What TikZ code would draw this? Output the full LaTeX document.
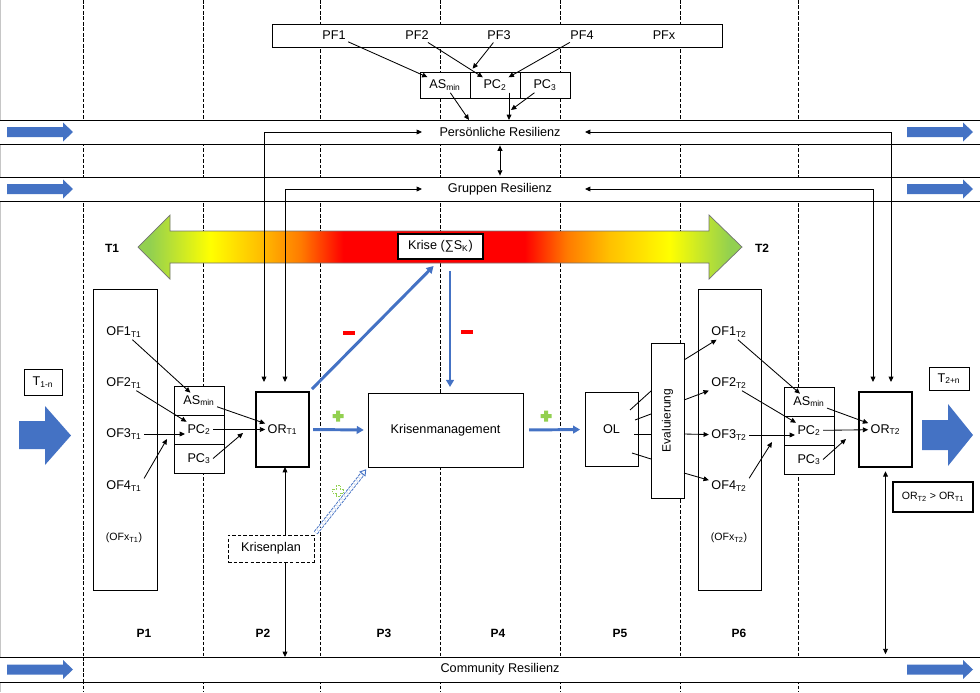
\documentclass[tikz,border=0pt]{standalone}
\usepackage{fontspec}
\setmainfont{Liberation Sans}
\usetikzlibrary{arrows.meta,calc,positioning}
\definecolor{kblue}{HTML}{4472C4}
\definecolor{kgreen}{HTML}{92D050}
\definecolor{kyellow}{HTML}{FFFF00}
\definecolor{kgold}{HTML}{FFC000}
\definecolor{korange}{HTML}{FF7A00}
\definecolor{kred}{HTML}{FF0000}
\pgfdeclarehorizontalshading{krise}{100bp}{color(0bp)=(kgreen); color(26bp)=(kgreen); color(31bp)=(kyellow); color(35bp)=(kgold); color(38.5bp)=(korange); color(42bp)=(kred); color(57bp)=(kred); color(60.5bp)=(korange); color(64bp)=(kgold); color(69bp)=(kyellow); color(74bp)=(kgreen); color(100bp)=(kgreen)}
\newcommand{\tsub}[1]{\textsubscript{#1}}

\begin{document}
\begin{tikzpicture}[x=0.025cm,y=-0.025cm,semithick,font=\fontsize{9}{11}\selectfont,
    >={Triangle[length=3.8pt,width=3.4pt]},
    rbox/.style 2 args={draw,fill=white,minimum width=#1*0.025cm,minimum height=#2*0.025cm,inner sep=0pt,outer sep=0pt},
    txt/.style={inner sep=1.5pt},
    smalltext/.style={font=\fontsize{7.5}{9}\selectfont},
    thickbox/.style={line width=1.3pt},
    phase/.style={font=\fontsize{8.5}{10}\selectfont\bfseries},
    vdash/.style={line width=0.65pt,dash pattern=on 2.6pt off 1.3pt},
    bluearrow/.style={->,>={Triangle[length=5pt,width=5.5pt]},draw=kblue,line width=2.1pt},
    minusbar/.style={fill=kred,minimum width=12*0.025cm,minimum height=4*0.025cm,inner sep=0pt},
    plusmark/.pic={\path[pic actions] (-2,-5.5) -- (2,-5.5) -- (2,-2) -- (5.5,-2) -- (5.5,2) -- (2,2) -- (2,5.5) -- (-2,5.5) -- (-2,2) -- (-5.5,2) -- (-5.5,-2) -- (-2,-2) -- cycle;}]
  \useasboundingbox (0,0) rectangle (980,692);
  \draw[gray!45,line width=1pt] (0.7,0) -- (0.7,692);

  % phases
  \foreach \x in {83,203,320,440,560,680,798}
    \draw[vdash] (\x,0) -- (\x,692);

  % resilience bands
  \node[rbox={984}{24}] (13) at (490,132) {};
  \node[rbox={984}{24}] (15) at (490,189) {};
  \node[rbox={984}{25}] (17) at (490,669.5) {};
  \draw[vdash] (83,657) -- (83,682);
  \node[txt] (14) at (500,132) {Persönliche Resilienz};
  \node[txt] (16) at (500,189) {Gruppen Resilienz};
  \node[txt] (18) at (500,669.5) {Community Resilienz};
  \foreach \y in {132,189,669.5} {
    \fill[kblue] (7,\y-5) -- (63,\y-5) -- (63,\y-9.5) -- (73,\y) -- (63,\y+9.5) -- (63,\y+5) -- (7,\y+5) -- cycle;
    \fill[kblue] (907,\y-5) -- (963,\y-5) -- (963,\y-9.5) -- (973,\y) -- (963,\y+9.5) -- (963,\y+5) -- (907,\y+5) -- cycle;
  }

  % crisis arrow
  \shadedraw[shading=krise,draw=black!55,line width=0.5pt] (138,247) -- (170,215) -- (170,231) -- (709,231) -- (709,215) -- (742,247) -- (709,279) -- (709,263) -- (170,263) -- (170,279) -- cycle;
  \node[rbox={85}{25},line width=0.8pt] (19) at (440.5,246.5) {Krise (∑S\tsub{K})};
  \node[phase] (56) at (112,248) {T1};
  \node[phase] (57) at (762,248) {T2};

  % personal factors
  \node[rbox={450}{23}] (1) at (497,35.5) {};
  \foreach \x/\t [count=\i from 2] in {334/PF1,417/PF2,499/PF3,582/PF4,664/PFx}
    \node[txt] (\i) at (\x,35.5) {\t};
  \node[rbox={50}{26}] (7) at (445,85) {};
  \node[rbox={50}{26},right=0pt of 7] (8) {};
  \node[rbox={50}{26},right=0pt of 8] (9) {};
  \node[txt] (10) at (7) {AS\tsub{min}};
  \node[txt] (11) at (8) {PC\tsub{2}};
  \node[txt] (12) at (9) {PC\tsub{3}};

  % before the crisis
  \node[rbox={64}{301}] (20) at (125,439.5) {};
  \foreach \y/\t [count=\i from 21] in {332/1,383/2,434/3,486/4}
    \node[txt] (\i) at (124,\y) {OF\t\tsub{T1}};
  \node[txt,smalltext] (25) at (124,538) {(OFx\tsub{T1})};
  \node[rbox={50}{29}] (26) at (199,400.5) {};
  \node[rbox={50}{29},below=0pt of 26] (27) {};
  \node[rbox={50}{29},below=0pt of 27] (28) {};
  \node[txt] (29) at (26) {AS\tsub{min}};
  \node[txt] (30) at (27) {PC\tsub{2}};
  \node[txt] (31) at (28) {PC\tsub{3}};
  \node[rbox={53}{75},thickbox] (32) at (282.5,429.5) {};
  \node[txt] (33) at (32) {OR\tsub{T1}};
  \node[rbox={86}{27},dash pattern=on 2.5pt off 1.5pt] (34) at (271,548.5) {Krisenplan};
  \node[rbox={38}{26}] (54) at (43,382) {T\tsub{1-n}};
  \fill[kblue] (19,421) -- (45,421) -- (45,406) -- (71,435.5) -- (45,465) -- (45,449) -- (19,449) -- cycle;

  % crisis and learning
  \node[rbox={155}{74}] (35) at (445.5,430) {Krisenmanagement};
  \node[rbox={53}{74}] (36) at (611.5,429.5) {OL};
  \node[rbox={33}{155}] (37) at (667.5,420.5) {};
  \node[rotate=90,font=\fontsize{8.5}{10}\selectfont] (38) at (37) {Evaluierung};

  % after the crisis
  \node[rbox={63}{301}] (39) at (729.5,439.5) {};
  \foreach \y/\t [count=\i from 40] in {332/1,383/2,435/3,486/4}
    \node[txt] (\i) at (729,\y) {OF\t\tsub{T2}};
  \node[txt,smalltext] (44) at (729,538) {(OFx\tsub{T2})};
  \node[rbox={50}{29}] (45) at (809,401.5) {};
  \node[rbox={50}{29},below=0pt of 45] (46) {};
  \node[rbox={50}{29},below=0pt of 46] (47) {};
  \node[txt] (48) at (45) {AS\tsub{min}};
  \node[txt] (49) at (46) {PC\tsub{2}};
  \node[txt] (50) at (47) {PC\tsub{3}};
  \node[rbox={53}{75},thickbox] (51) at (885.5,429.5) {};
  \node[txt] (52) at (51) {OR\tsub{T2}};
  \node[rbox={80}{30},thickbox,smalltext] (53) at (933,497) {OR\tsub{T2} > OR\tsub{T1}};
  \node[rbox={40}{23}] (55) at (949,378.5) {T\tsub{2+n}};
  \fill[kblue] (922,420) -- (948,420) -- (948,404) -- (973,435) -- (948,466) -- (948,450) -- (922,450) -- cycle;

  \foreach \x/\t in {144/P1,263/P2,384/P3,498/P4,620/P5,739/P6}
    \node[phase] (\t) at (\x,633) {\t};

  % free ends
  \coordinate (70) at ($(32.north west)+(8,-10)$);
  \coordinate (71) at ($(32.north west)+(29,-10)$);
  \coordinate (72) at ($(51.north west)+(14,-10)$);
  \coordinate (73) at ($(51.north west)+(32,-10)$);
  \coordinate (74) at (422,132);
  \coordinate (75) at (585,132);
  \coordinate (76) at (422,189);
  \coordinate (77) at (585,189);
  \coordinate (78) at (469,120);
  \coordinate (79) at (511,110);
  \coordinate (80) at (167,439);
  \coordinate (81) at (772,442);
  \coordinate (82) at (243,433);
  \coordinate (83) at (846,439);

  % top connectors
  \draw[->] (2) -- (10);
  \draw[->] (3) -- (11);
  \draw[->,shorten >=3pt] (4) -- (7.north east);
  \draw[->] (5) -- (11);
  \draw[->] (10) -- (78);
  \draw[->] (11.south east) -- (11.south east |- 13.north);
  \draw[->] (12) -- (79);
  \draw[<->,shorten <=1pt,shorten >=1pt] (13.south -| 14) -- (15.north -| 14);
  \draw[<->] (74) -| (70);
  \draw[<->] (76) -| (71);
  \draw[<->] (75) -| (73);
  \draw[<->] (77) -| (72);

  % left connectors
  \draw[->] (21) -- (29);
  \draw[->] (22) -- (30);
  \draw[->] (23) -- (23 -| 30.west);
  \draw[->] (24.north east) -- (80);
  \draw[->] (29) -- (33);
  \draw[->] (30) -- (33);
  \draw[->] (31.east) -- (82);
  \draw[->] (34.north -| 71) -- (32.south -| 71);
  \draw[->] (34.south -| 71) -- (17.north -| 71);

  % crisis connectors
  \draw[bluearrow,shorten <=3pt,shorten >=3pt] (32.east) -- (35.west);
  \draw[bluearrow,shorten <=3pt,shorten >=7pt] (32.north east) -- (19.south);
  \draw[bluearrow,shorten <=8.5pt,shorten >=4.3pt] ($(19.south)+(9.5,0)$) -- ($(35.north)+(4.5,0)$);
  \draw[bluearrow,shorten <=4.3pt,shorten >=3.5pt] (35.east) -- (36.west);
  \draw[kblue,line width=0.65pt,double=white,double distance=2pt,dash pattern=on 2pt off 0.8pt,-{Triangle[open,length=4.5pt,width=5.5pt]},shorten <=2pt,shorten >=2pt] (34.north east) -- (35.south west);
  \node[minusbar] (64) at (349,333) {};
  \node[minusbar] (65) at (467,332) {};
  \pic[fill=kgreen] at (338,416) {plusmark};
  \pic[fill=kgreen] at (546,416) {plusmark};
  \pic[draw=kgreen,line width=0.5pt,dash pattern=on 1pt off 0.6pt] at (338,491) {plusmark};

  % learning connectors
  \foreach \dx/\dy/\ey in {-8/-19.5/-29.5,-3/-9.5/-6.5,-4/4.5/13.5,-6/23.5/38.5}
    \draw ($(36.east)+(\dx,\dy)$) -- ($(37.west)+(0,\ey)$);
  \foreach \dy/\i in {-60.5/40,-20.5/41,13.5/42,52.5/43}
    \draw[->] ($(37.east)+(0,\dy)$) -- (\i);

  % right connectors
  \draw[->] (40) -- (48);
  \draw[->] (41) -- (49);
  \draw[->] (42) -- (42 -| 49.west);
  \draw[->] (43.north east) -- (81);
  \draw[->] (48) -- (52);
  \draw[->] (49) -- (52);
  \draw[->] (50.east) -- (83);
  \draw[<->,shorten <=3pt,shorten >=2pt] (51.south) -- (17.north -| 51);
\end{tikzpicture}
\end{document}
